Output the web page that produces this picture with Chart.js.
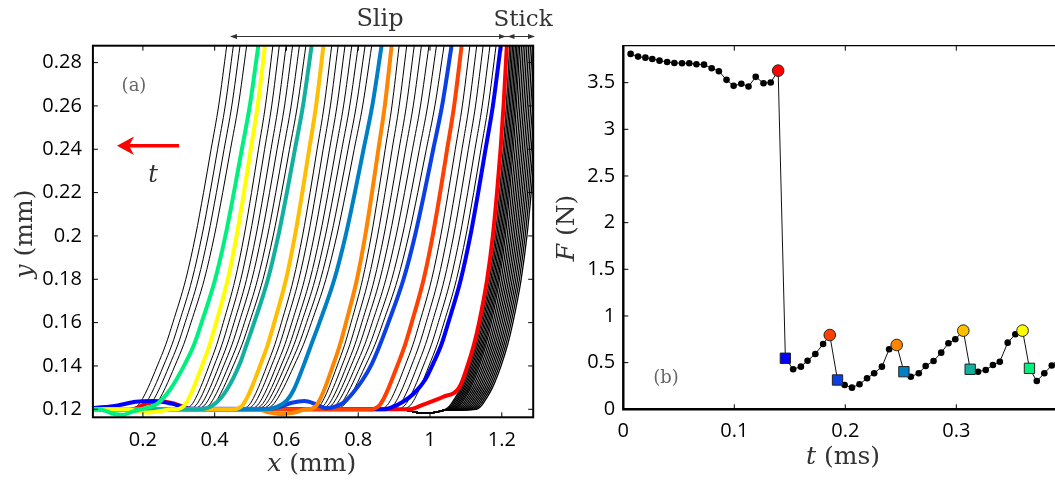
<!DOCTYPE html>
<html>
<head>
<meta charset="utf-8">
<script src="https://cdn.jsdelivr.net/npm/chart.js@4.4.1/dist/chart.umd.min.js"></script>
<style>
  html, body { margin: 0; padding: 0; background: #fff; overflow: hidden; width: 1055px; height: 481px; }
  #profiles { position: absolute; left: 0; top: 0; }
  #force { position: absolute; left: 540px; top: 0; }
</style>
</head>
<body>
<canvas id="profiles" width="560" height="481"></canvas>
<canvas id="force" width="580" height="481"></canvas>
<script>
// ---------- panel (a): interface profiles, mm ----------
const xTicksA = [0.2, 0.4, 0.6, 0.8, 1, 1.2];
const yTicksA = [0.12, 0.14, 0.16, 0.18, 0.2, 0.22, 0.24, 0.26, 0.28];

// heights at which the profiles were read (top edge down to the contact line)
const profileY   = [0.2877, 0.26, 0.24, 0.22, 0.20, 0.18, 0.16, 0.15, 0.14, 0.13, 0.125, 0.122, 0.1207, 0.12];
// distance left of the top point, in units of the profile's offset at y = 0.16
const slipShape  = [0, 0.15, 0.29, 0.43, 0.58, 0.76, 1.00, 1.13, 1.29, 1.46, 1.56, 1.64, 1.71, 1.80];
const stickShape = [0, 0.11, 0.21, 0.33, 0.47, 0.66, 0.93, 1.10, 1.32, 1.60, 1.80, 1.94, 2.03, 2.13];

// stick phase (black, packed on the right)
const stickTops   = [1.310, 1.305, 1.300, 1.295, 1.290, 1.285, 1.280, 1.275, 1.270, 1.265,
                     1.260, 1.255, 1.250, 1.246, 1.242, 1.238, 1.234, 1.230, 1.226, 1.222];
const stickSpread = 0.085;
const stickFoot   = [[1.045, 0.1197], [1.015, 0.1186], [0.975, 0.1183], [0.945, 0.1192], [0.92, 0.12], [0.06, 0.12]];

// slip phase (black)
const slipTops   = [1.184, 1.167, 1.148, 1.130, 1.111,
                    1.039, 1.018, 0.997, 0.976, 0.956, 0.935, 0.914,
                    0.8375, 0.819, 0.800, 0.782, 0.763, 0.744, 0.726,
                    0.654, 0.636, 0.617, 0.599, 0.580, 0.562,
                    0.489, 0.4706, 0.452, 0.4335];
const slipSpread = [0.145, 0.144, 0.142, 0.141, 0.140,
                    0.170, 0.164, 0.158, 0.152, 0.146, 0.140, 0.134,
                    0.168, 0.163, 0.158, 0.153, 0.148, 0.144, 0.140,
                    0.157, 0.153, 0.149, 0.145, 0.141, 0.138,
                    0.155, 0.153, 0.151, 0.150];
const flatFoot = [[0.06, 0.12]];

// highlighted profiles, same order as the markers of panel (b)
const markColours  = ['#ff0000', '#0000ff', '#ff4000', '#0a40e6', '#ff8400', '#0080c4', '#ffbf00', '#12b09e', '#ffff00', '#00f080'];
const colourTops   = [1.214, 1.197, 1.088, 1.060, 0.893, 0.865, 0.703, 0.670, 0.540, 0.5215];
const colourSpread = [0.083, 0.146, 0.139, 0.176, 0.127, 0.173, 0.137, 0.160, 0.136, 0.158];
const colourShapes = [stickShape, slipShape, slipShape, slipShape, slipShape, slipShape, slipShape, slipShape, slipShape, slipShape];
const colourFeet = [
  [[1.037, 0.1258], [0.981, 0.1222], [0.944, 0.12], [0.34, 0.12], [0.29, 0.1225], [0.25, 0.1237], [0.21, 0.1226], [0.17, 0.12], [0.06, 0.12]],
  [[1.009, 0.1412], [0.986, 0.1335], [0.955, 0.1273], [0.925, 0.1235], [0.897, 0.1212], [0.870, 0.12], [0.33, 0.1203], [0.28, 0.1226], [0.23, 0.1238], [0.18, 0.1235], [0.13, 0.1218], [0.061, 0.1205]],
  flatFoot,
  [[0.838, 0.1410], [0.812, 0.1335], [0.785, 0.1275], [0.762, 0.1235], [0.74, 0.1215], [0.71, 0.1205], [0.68, 0.1225], [0.65, 0.1238], [0.615, 0.1230], [0.58, 0.1210], [0.54, 0.12], [0.06, 0.12]],
  [[0.655, 0.12], [0.625, 0.1186], [0.585, 0.1178], [0.55, 0.1186], [0.52, 0.12], [0.06, 0.12]],
  [[0.650, 0.1412], [0.620, 0.1289], [0.602, 0.1243], [0.575, 0.1212], [0.545, 0.12], [0.06, 0.12]],
  flatFoot,
  [[0.4706, 0.1412], [0.4335, 0.1289], [0.401, 0.1226], [0.359, 0.12], [0.06, 0.12]],
  [[0.28, 0.12], [0.25, 0.1192], [0.21, 0.1185], [0.18, 0.1192], [0.16, 0.12], [0.06, 0.12]],
  [[0.318, 0.1412], [0.275, 0.1289], [0.240, 0.1226], [0.195, 0.12], [0.165, 0.1186], [0.145, 0.1174], [0.12, 0.1178], [0.095, 0.1193], [0.075, 0.12], [0.06, 0.12]]
];

// ---------- panel (b): force vs time ----------
const tTicksB = [0, 0.1, 0.2, 0.3];
const fTicksB = [0, 0.5, 1, 1.5, 2, 2.5, 3, 3.5];
const tFrame = [0.0066, 0.0133, 0.0199, 0.0261, 0.0326, 0.0395, 0.046, 0.0529, 0.0594, 0.0659,
                0.0727, 0.0796, 0.0861, 0.093, 0.0994, 0.1063, 0.1128, 0.1193, 0.1263, 0.1328,
                0.1395, 0.146, 0.153, 0.160, 0.166, 0.173, 0.180, 0.186,
                0.193, 0.1994, 0.206, 0.2128, 0.2196, 0.226, 0.233, 0.2395, 0.2463,
                0.2528, 0.259, 0.2662, 0.2724, 0.2795, 0.2864, 0.2929, 0.2991, 0.3063,
                0.3125, 0.3196, 0.3265, 0.333, 0.3392, 0.3463, 0.3532, 0.3597,
                0.3659, 0.3725, 0.3793, 0.386, 0.393];
const force = [3.808, 3.779, 3.768, 3.754, 3.736, 3.722, 3.711, 3.708, 3.708, 3.697,
               3.693, 3.655, 3.623, 3.530, 3.466, 3.488, 3.459, 3.562, 3.494, 3.501,
               3.629, 0.547, 0.429, 0.457, 0.521, 0.593, 0.700, 0.796,
               0.314, 0.260, 0.232, 0.268, 0.332, 0.386, 0.457, 0.643, 0.689,
               0.403, 0.349, 0.386, 0.464, 0.518, 0.607, 0.707, 0.750, 0.843,
               0.429, 0.403, 0.421, 0.475, 0.510, 0.714, 0.804, 0.843,
               0.439, 0.303, 0.386, 0.47, 0.55];
const markIndex = [20, 21, 27, 28, 36, 37, 45, 46, 53, 54];
const markStyle = ['circle', 'rect', 'circle', 'rect', 'circle', 'rect', 'circle', 'rect', 'circle', 'rect'];

Chart.defaults.font.family = '"Open Sans", sans-serif';

function profile(top, spread, shape, foot) {
  const pts = [];
  for (let i = 0; i < profileY.length; i++) {
    if (profileY[i] >= foot[0][1]) pts.push({ x: top - shape[i] * spread, y: profileY[i] });
  }
  foot.forEach(p => pts.push({ x: p[0], y: p[1] }));
  return pts;
}

function lineSet(points, colour, width) {
  return { data: points, showLine: true, borderColor: colour, borderWidth: width, pointRadius: 0,
           cubicInterpolationMode: 'monotone', clip: 0 };
}

// built bottom-most first; Chart.js paints index 0 last, so the list is reversed below
const profileSets = [];
stickTops.forEach(top => profileSets.push(lineSet(profile(top, stickSpread, stickShape, stickFoot), '#000', 1.3)));
slipTops.forEach((top, i) => profileSets.push(lineSet(profile(top, slipSpread[i], slipShape, flatFoot), '#000', 1)));
colourTops.forEach((top, i) => profileSets.push(lineSet(profile(top, colourSpread[i], colourShapes[i], colourFeet[i]), markColours[i], 4)));
profileSets.reverse();

function axis(min, max, ticks, pad, size, horizontal) {
  return {
    type: 'linear', min: min, max: max,
    grid: { display: false, drawTicks: false },
    border: { display: false },
    ticks: { color: '#000', padding: pad, font: { size: 20 }, callback: v => String(v) },
    afterBuildTicks: s => { s.ticks = ticks.map(v => ({ value: v })); },
    afterFit: s => { if (horizontal) s.height = size; else s.width = size; }
  };
}

function mathLabel(ctx, sym, rest, cx, cy, angle) {
  ctx.save();
  ctx.translate(cx, cy);
  ctx.rotate(angle);
  ctx.fillStyle = '#333';
  ctx.textBaseline = 'alphabetic';
  const fi = 'italic 25px "DejaVu Serif"', fr = '25px "DejaVu Serif"';
  ctx.font = fi; const w1 = ctx.measureText(sym).width;
  ctx.font = fr; const w2 = ctx.measureText(rest).width;
  const x0 = -(w1 + w2) / 2;
  ctx.font = fi; ctx.fillText(sym, x0, 7.8);
  ctx.font = fr; ctx.fillText(rest, x0 + w1, 7.8);
  ctx.restore();
}

function head(ctx, tipX, y, dir, len, half) {
  ctx.beginPath();
  ctx.moveTo(tipX, y);
  ctx.lineTo(tipX - dir * len, y - half);
  ctx.lineTo(tipX - dir * len, y + half);
  ctx.closePath();
  ctx.fill();
}

const frameA = {
  id: 'frameA',
  afterDatasetsDraw(chart) {
    const { ctx, chartArea: a, scales: { x, y } } = chart;
    ctx.save();
    ctx.strokeStyle = '#000';
    ctx.lineWidth = 1;
    ctx.beginPath();
    xTicksA.forEach(v => {
      const px = x.getPixelForValue(v);
      ctx.moveTo(px, a.bottom); ctx.lineTo(px, a.bottom - 5);
      ctx.moveTo(px, a.top); ctx.lineTo(px, a.top + 5);
    });
    yTicksA.forEach(v => {
      const py = y.getPixelForValue(v);
      ctx.moveTo(a.left, py); ctx.lineTo(a.left + 5, py);
      ctx.moveTo(a.right, py); ctx.lineTo(a.right - 5, py);
    });
    ctx.stroke();
    ctx.lineWidth = 2;
    ctx.strokeRect(a.left, a.top, a.right - a.left, a.bottom - a.top);
    ctx.restore();
  },
  afterDraw(chart) {
    const ctx = chart.ctx;
    ctx.save();
    // Slip / Stick arrows
    ctx.strokeStyle = '#333';
    ctx.fillStyle = '#333';
    ctx.lineWidth = 1;
    ctx.beginPath();
    ctx.moveTo(231, 36.5); ctx.lineTo(534, 36.5);
    ctx.stroke();
    head(ctx, 230, 36.5, -1, 7, 2.5);
    head(ctx, 506, 36.5, 1, 7, 2.5);
    head(ctx, 507.5, 36.5, -1, 7, 2.5);
    head(ctx, 535, 36.5, 1, 7, 2.5);
    ctx.font = '24px "DejaVu Serif"';
    ctx.textAlign = 'center';
    ctx.textBaseline = 'alphabetic';
    ctx.fillText('Slip', 380, 26);
    ctx.font = '23px "DejaVu Serif"';
    ctx.fillText('Stick', 523, 26);
    // red time arrow
    ctx.strokeStyle = '#ff0000';
    ctx.fillStyle = '#ff0000';
    ctx.lineWidth = 3.6;
    ctx.beginPath();
    ctx.moveTo(179, 145.7); ctx.lineTo(128, 145.7);
    ctx.stroke();
    ctx.beginPath();
    ctx.moveTo(117, 145.7); ctx.lineTo(134, 136.5); ctx.lineTo(129, 145.7); ctx.lineTo(134, 155);
    ctx.closePath();
    ctx.fill();
    ctx.fillStyle = '#333';
    ctx.font = 'italic 24px "DejaVu Serif"';
    ctx.fillText('t', 153, 182);
    ctx.fillStyle = '#666';
    ctx.font = '18px "DejaVu Serif"';
    ctx.textBaseline = 'middle';
    ctx.fillText('(a)', 134, 86);
    ctx.restore();
    mathLabel(ctx, 'x', ' (mm)', 311.7, 462.7, 0);
    mathLabel(ctx, 'y', ' (mm)', 24, 234, -Math.PI / 2);
  }
};

new Chart(document.getElementById('profiles'), {
  type: 'scatter',
  data: { datasets: profileSets },
  options: {
    animation: false, responsive: false, devicePixelRatio: 1, events: [],
    layout: { padding: { top: 45.7, right: 26.8, left: 0, bottom: 0 } },
    plugins: { legend: { display: false }, tooltip: { enabled: false } },
    scales: {
      x: axis(0.0607, 1.2875, xTicksA, 11, 63.7, true),
      y: axis(0.1163, 0.2878, yTicksA, 11, 92.9, false)
    }
  },
  plugins: [frameA]
});

const frameB = {
  id: 'frameB',
  afterDatasetsDraw(chart) {
    const { ctx, chartArea: a, scales: { x, y } } = chart;
    ctx.save();
    ctx.strokeStyle = '#000';
    ctx.lineWidth = 1;
    ctx.beginPath();
    tTicksB.forEach(v => {
      const px = x.getPixelForValue(v);
      ctx.moveTo(px, a.bottom); ctx.lineTo(px, a.bottom - 5);
      ctx.moveTo(px, a.top); ctx.lineTo(px, a.top + 5);
    });
    fTicksB.forEach(v => {
      const py = y.getPixelForValue(v);
      ctx.moveTo(a.left, py); ctx.lineTo(a.left + 5, py);
    });
    ctx.stroke();
    ctx.lineWidth = 1.3;
    ctx.beginPath();
    ctx.moveTo(a.left, a.top); ctx.lineTo(a.right, a.top);
    ctx.stroke();
    ctx.lineWidth = 2.4;
    ctx.beginPath();
    ctx.moveTo(a.left, a.top - 0.6); ctx.lineTo(a.left, a.bottom); ctx.lineTo(a.right, a.bottom);
    ctx.stroke();
    ctx.restore();
  },
  afterDraw(chart) {
    const ctx = chart.ctx;
    ctx.save();
    ctx.fillStyle = '#666';
    ctx.font = '18px "DejaVu Serif"';
    ctx.textAlign = 'center';
    ctx.textBaseline = 'middle';
    ctx.fillText('(b)', 126, 378);
    ctx.restore();
    mathLabel(ctx, 't', ' (ms)', 303, 456.2, 0);
    mathLabel(ctx, 'F', ' (N)', 26, 228, -Math.PI / 2);
  }
};

new Chart(document.getElementById('force'), {
  type: 'scatter',
  data: {
    datasets: [
      {
        // coloured markers, listed first so they are painted over the trace
        data: markIndex.map(i => ({ x: tFrame[i], y: force[i] })),
        showLine: false,
        pointStyle: markStyle,
        pointRadius: markStyle.map(s => s === 'circle' ? 5.8 : 7.3),
        pointBackgroundColor: markColours,
        pointBorderColor: '#222', pointBorderWidth: 1
      },
      {
        data: tFrame.map((t, i) => ({ x: t, y: force[i] })),
        showLine: true, borderColor: '#111', borderWidth: 1, tension: 0,
        pointRadius: 3.3, pointBackgroundColor: '#000', pointBorderWidth: 0
      }
    ]
  },
  options: {
    animation: false, responsive: false, devicePixelRatio: 1, events: [],
    layout: { padding: { top: 45.7, right: 2.4, left: 0, bottom: 0 } },
    plugins: { legend: { display: false }, tooltip: { enabled: false } },
    scales: {
      x: axis(0, 0.44, tTicksB, 10, 71.7, true),
      y: axis(0, 3.896, fTicksB, 8, 83.3, false)
    }
  },
  plugins: [frameB]
});
</script>
</body>
</html>
